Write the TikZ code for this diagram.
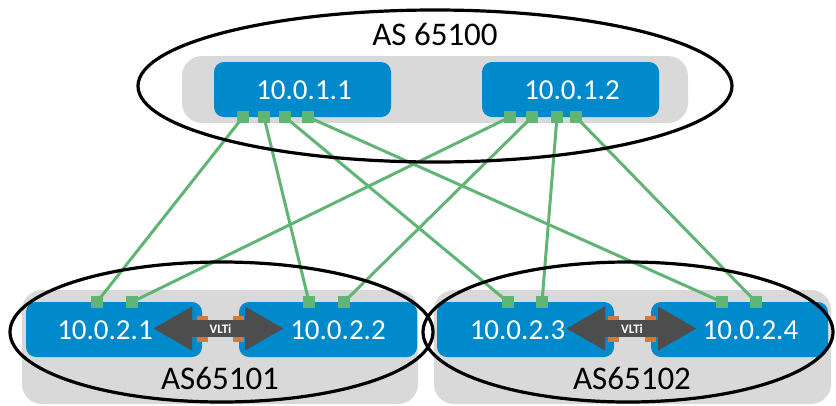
\documentclass[tikz,border=0pt]{standalone}
\usepackage{fontspec}
\setmainfont{Carlito}
\usetikzlibrary{arrows.meta}
\definecolor{nodeblue}{RGB}{0,137,203}
\definecolor{groupgrey}{RGB}{217,217,217}
\definecolor{linkgreen}{RGB}{96,181,116}
\definecolor{vltigrey}{RGB}{77,77,77}
\definecolor{portorange}{RGB}{210,122,58}
\begin{document}
\begin{tikzpicture}[x=1pt,y=-1pt,
  group/.style={fill=groupgrey, rounded corners=20pt},
  switch/.style={fill=nodeblue, rounded corners=10pt, minimum width=177pt,
                 minimum height=55pt, inner sep=0pt},
  iplabel/.style={text=white, font=\fontsize{29}{29}\selectfont, inner sep=0pt},
  aslabel/.style={text=black, font=\fontsize{33}{33}\selectfont, inner sep=0pt},
  port/.style={fill=linkgreen, minimum size=12pt, inner sep=0pt},
  link/.style={draw=linkgreen, line width=3pt},
  vlti/.style={draw=vltigrey, line width=17pt,
               {Triangle[length=39pt,width=41pt]}-{Triangle[length=39pt,width=41pt]}},
  vltiport/.style={fill=portorange, minimum width=11pt, minimum height=26pt, inner sep=0pt},
  vltitext/.style={text=white, font=\fontsize{13}{13}\selectfont\bfseries, inner sep=0pt},
  asring/.style={draw=black, line width=3.2pt}]
\useasboundingbox (0,0) rectangle (836,405);

% AS group backgrounds
\fill[group] (182,56) rectangle (688,123);
\fill[group] (22,290) rectangle (418,404);
\fill[group] (434,290) rectangle (831,404);

% spine switches
\node[switch] (s11) at (302.5,89.5) {};
\node[switch] (s12) at (570.5,89.5) {};
% leaf switches
\node[switch, minimum width=176pt] (s21) at (114,329.5) {};
\node[switch, minimum width=178pt] (s22) at (328,329.5) {};
\node[switch, minimum width=177pt] (s23) at (525.5,329.5) {};
\node[switch, minimum width=177pt] (s24) at (739.5,329.5) {};

% uplink ports on the spines
\node[port] (a1) at (243,117) {};
\node[port] (a2) at (264,117) {};
\node[port] (a3) at (285,117) {};
\node[port] (a4) at (308,117) {};
\node[port] (b1) at (510,117) {};
\node[port] (b2) at (532,117) {};
\node[port] (b3) at (557,117) {};
\node[port] (b4) at (576,117) {};
% uplink ports on the leaves
\node[port] (c1) at (97,302) {};
\node[port] (c2) at (132,302) {};
\node[port] (d1) at (309,302) {};
\node[port] (d2) at (344,302) {};
\node[port] (e1) at (508,302) {};
\node[port] (e2) at (542,302) {};
\node[port] (f1) at (722,302) {};
\node[port] (f2) at (756,302) {};

% spine-leaf links
\draw[link] (a1.center) -- (c1.center);
\draw[link] (a2.center) -- (d1.center);
\draw[link] (a3.center) -- (e1.center);
\draw[link] (a4.center) -- (f1.center);
\draw[link] (b1.center) -- (c2.center);
\draw[link] (b2.center) -- (d2.center);
\draw[link] (b3.center) -- (e2.center);
\draw[link] (b4.center) -- (f2.center);

% VLTi port pairs
\node[vltiport] (v1) at (202,329) {};
\node[vltiport] (v2) at (238.5,329) {};
\node[vltiport] (v3) at (613,329) {};
\node[vltiport] (v4) at (650.5,329) {};

% VLTi links
\coordinate (t1) at (153,328.5);
\coordinate (t2) at (284,328.5);
\coordinate (t3) at (566,328.5);
\coordinate (t4) at (697,328.5);
\draw[vlti] (t1) -- (t2);
\draw[vlti] (t3) -- (t4);
\node[vltitext] (l1) at (220.5,329) {VLTi};
\node[vltitext] (l2) at (632,329) {VLTi};

% switch addresses
\node[iplabel] (n11) at (304,90) {10.0.1.1};
\node[iplabel] (n12) at (572,90) {10.0.1.2};
\node[iplabel] (n21) at (105,330) {10.0.2.1};
\node[iplabel] (n22) at (338,330) {10.0.2.2};
\node[iplabel] (n23) at (517.5,330) {10.0.2.3};
\node[iplabel] (n24) at (750.5,330) {10.0.2.4};

% AS names
\node[aslabel] (as0) at (435,34) {AS 65100};
\node[aslabel] (as1) at (220,378) {AS65101};
\node[aslabel] (as2) at (632,378) {AS65102};

% AS rings
\draw[asring] (435,86) ellipse [x radius=297pt, y radius=76pt];
\draw[asring] (221.5,332) ellipse [x radius=211.5pt, y radius=70pt];
\draw[asring] (628,332) ellipse [x radius=205pt, y radius=70pt];
\end{tikzpicture}
\end{document}
